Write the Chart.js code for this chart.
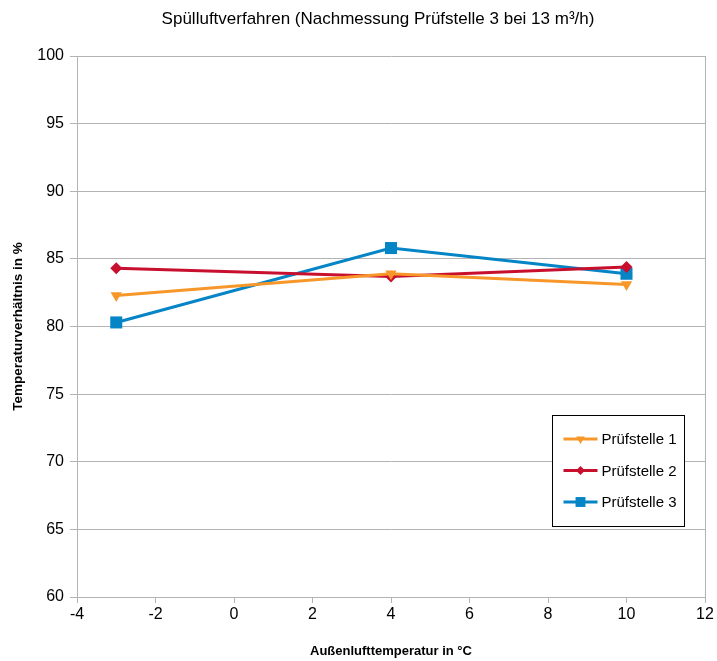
<!DOCTYPE html>
<html>
<head>
<meta charset="utf-8">
<script src="https://cdn.jsdelivr.net/npm/chart.js@4/dist/chart.umd.min.js"></script>
<style>
  html, body { margin: 0; padding: 0; background: #fff; }
  #wrap { width: 717px; height: 661px; }
</style>
</head>
<body>
<div id="wrap"><canvas id="c" width="717" height="661"></canvas></div>
<script>
// Außenlufttemperatur (°C) der Messpunkte
const temperatures = [-3, 4, 10];
// Temperaturverhältnis (%) je Prüfstelle
const pruefstelle1 = [82.3, 83.9, 83.1];
const pruefstelle2 = [84.3, 83.7, 84.4];
const pruefstelle3 = [80.3, 85.8, 83.9];
const seriesNames = ['Prüfstelle 1', 'Prüfstelle 2', 'Prüfstelle 3'];
const xTicks = [-4, -2, 0, 2, 4, 6, 8, 10, 12];
const yTicks = [60, 65, 70, 75, 80, 85, 90, 95, 100];
const chartTitle = 'Spülluftverfahren (Nachmessung Prüfstelle 3 bei 13 m³/h)';

const FONT = '"Liberation Sans", Arial, sans-serif';
const GRID = '#b3b3b3';

function toPoints(values) {
  return temperatures.map((t, i) => ({ x: t, y: values[i] }));
}

const styles = [
  { color: '#f7972a', pointStyle: 'triangle', rotation: 180, radius: 6.5, legendRadius: 5 },
  { color: '#c8102e', pointStyle: 'rectRot', rotation: 0, radius: 6, legendRadius: 4.5 },
  { color: '#0584c6', pointStyle: 'rect', rotation: 0, radius: 8.5, legendRadius: 7 }
];

const datasets = [pruefstelle1, pruefstelle2, pruefstelle3].map((vals, i) => ({
  label: seriesNames[i],
  data: toPoints(vals),
  borderColor: styles[i].color,
  backgroundColor: styles[i].color,
  borderWidth: 3,
  pointStyle: styles[i].pointStyle,
  pointRotation: styles[i].rotation,
  pointRadius: styles[i].radius,
  pointHoverRadius: styles[i].radius,
  pointBorderWidth: 0,
  tension: 0
}));

// Überschrift über dem Diagramm
const headline = {
  id: 'headline',
  afterDraw(chart) {
    const { ctx } = chart;
    ctx.save();
    ctx.font = '17px ' + FONT;
    ctx.fillStyle = '#000';
    ctx.textAlign = 'center';
    ctx.textBaseline = 'middle';
    ctx.fillText(chartTitle, 378, 19);
    ctx.restore();
  }
};

// Rahmen rechts am Diagrammbereich
const areaBorder = {
  id: 'areaBorder',
  afterDraw(chart) {
    const { ctx, chartArea: a } = chart;
    ctx.save();
    ctx.strokeStyle = GRID;
    ctx.lineWidth = 1;
    ctx.beginPath();
    ctx.moveTo(Math.round(a.right) + 0.5, a.top);
    ctx.lineTo(Math.round(a.right) + 0.5, a.bottom);
    ctx.stroke();
    ctx.restore();
  }
};

// Legende im Kasten unten rechts im Diagrammbereich
const boxLegend = {
  id: 'boxLegend',
  afterDraw(chart) {
    const { ctx } = chart;
    const x0 = 552.5, y0 = 415.5, w = 132, h = 111;
    ctx.save();
    ctx.fillStyle = '#fff';
    ctx.fillRect(x0, y0, w, h);
    ctx.strokeStyle = '#000';
    ctx.lineWidth = 1;
    ctx.strokeRect(x0, y0, w, h);
    ctx.font = '15px ' + FONT;
    ctx.textBaseline = 'middle';
    chart.data.datasets.forEach((ds, i) => {
      const cy = y0 + 23.5 + i * 31.5;
      ctx.strokeStyle = ds.borderColor;
      ctx.lineWidth = 3;
      ctx.beginPath();
      ctx.moveTo(x0 + 11, cy);
      ctx.lineTo(x0 + 45, cy);
      ctx.stroke();
      ctx.fillStyle = ds.backgroundColor;
      Chart.helpers.drawPoint(ctx, {
        pointStyle: ds.pointStyle,
        rotation: ds.pointRotation,
        radius: styles[i].legendRadius,
        borderWidth: 0
      }, x0 + 28, cy);
      ctx.fillStyle = '#000';
      ctx.textAlign = 'left';
      ctx.fillText(ds.label, x0 + 49, cy + 1);
    });
    ctx.restore();
  }
};

new Chart(document.getElementById('c'), {
  type: 'line',
  data: { datasets },
  plugins: [headline, areaBorder, boxLegend],
  options: {
    responsive: false,
    animation: false,
    layout: { padding: { left: 0, right: 12, top: 56, bottom: 0 } },
    plugins: {
      legend: { display: false },
      tooltip: { enabled: false },
      title: { display: false }
    },
    scales: {
      x: {
        type: 'linear',
        min: -4, max: 12,
        afterBuildTicks(scale) { scale.ticks = xTicks.map(v => ({ value: v })); },
        afterFit(scale) { scale.height = 64; },
        border: { display: true, color: GRID, width: 1 },
        grid: { drawOnChartArea: false, drawTicks: true, tickLength: 6, color: GRID },
        ticks: { color: '#000', font: { family: FONT, size: 16 }, padding: 2, maxRotation: 0 },
        title: {
          display: true,
          text: 'Außenlufttemperatur in °C',
          color: '#000',
          font: { family: FONT, size: 13, weight: 'bold' },
          padding: { top: 0, bottom: 2 }
        }
      },
      y: {
        min: 60, max: 100,
        afterBuildTicks(scale) { scale.ticks = yTicks.map(v => ({ value: v })); },
        afterFit(scale) { scale.width = 77; },
        border: { display: true, color: GRID, width: 1 },
        grid: { color: GRID, tickLength: 7, drawTicks: true },
        ticks: { color: '#000', font: { family: FONT, size: 16 }, padding: 6 },
        title: {
          display: true,
          text: 'Temperaturverhältnis in %',
          color: '#000',
          font: { family: FONT, size: 13.5, weight: 'bold' },
          padding: { top: 10, bottom: 0 }
        }
      }
    }
  }
});
</script>
</body>
</html>
